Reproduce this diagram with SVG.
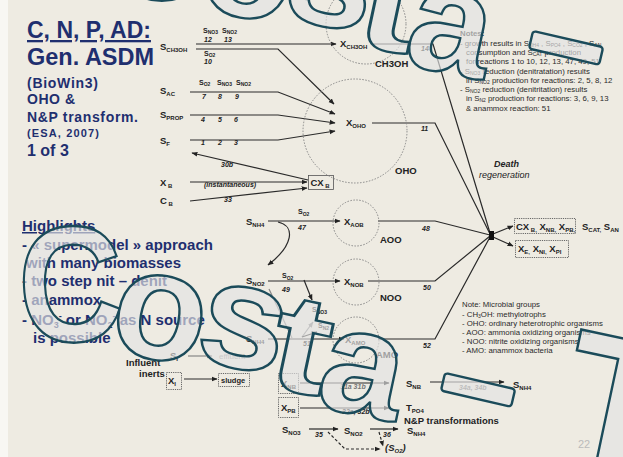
<svg xmlns="http://www.w3.org/2000/svg" width="623" height="457" viewBox="0 0 623 457">
<defs>
<marker id="ah" viewBox="0 0 10 10" refX="9" refY="5" markerWidth="6" markerHeight="6" orient="auto" markerUnits="userSpaceOnUse"><path d="M0,1 L10,5 L0,9 z" fill="#222"/></marker>
<marker id="ahg" viewBox="0 0 10 10" refX="9" refY="5" markerWidth="6" markerHeight="6" orient="auto" markerUnits="userSpaceOnUse"><path d="M0,1 L10,5 L0,9 z" fill="#888"/></marker>
<style>
.t{font-family:"Liberation Sans",Arial,sans-serif;fill:#222}
.v{font-size:9.5px;font-weight:bold}
.s{font-size:6px}
.n{font-size:7px;font-style:italic;font-weight:bold}
.sm{font-size:7px;font-weight:bold}
.ln{stroke:#2a2a2a;stroke-width:1.2;fill:none}
.lg{stroke:#888;stroke-width:1.2;fill:none}
.circ{fill:none;stroke:#888;stroke-width:1;stroke-dasharray:1.5 1.5}
.box{fill:none;stroke:#666;stroke-width:1;stroke-dasharray:1.2 1}
.nav{fill:#1f2f6f;font-family:"Liberation Sans",Arial,sans-serif;font-weight:bold}
.note{font-family:"Liberation Sans",Arial,sans-serif;font-size:7.8px;fill:#2a2a2a}
.ns{font-size:5px}
.wm{font-family:"Liberation Sans",Arial,sans-serif;font-weight:bold;fill:#e4e4e4;fill-opacity:0.65;stroke:#1b4b5a;stroke-width:2.4}
.wr{fill:#e4e4e4;fill-opacity:0.65;stroke:#1b4b5a;stroke-width:2.4}
</style>
<g id="wmword">
<text class="wm" transform="translate(20,343) rotate(-2) scale(0.88,1)" font-size="165">C</text>
<text class="wm" transform="translate(106,350) rotate(10)" font-size="155">o</text>
<text class="wm" transform="translate(192,358) rotate(12) scale(1.05,1)" font-size="150">s</text>
<text class="wm" transform="translate(264,385) rotate(12) scale(1.25,1)" font-size="140">t</text>
<text class="wm" transform="translate(313,405) rotate(12)" font-size="150">a</text>
<rect class="wr" x="0" y="0" width="72" height="18" rx="3" transform="translate(445,373) rotate(13)"/>
</g>
</defs>
<rect width="623" height="457" fill="#eeebe2"/>
<rect width="8" height="457" fill="#f8f7f3"/>

<g id="title">
<text class="nav" x="27" y="38" font-size="23" text-decoration="underline">C, N, P, AD:</text>
<text class="nav" x="27" y="65" font-size="23.5">Gen. ASDM</text>
<text class="nav" x="27" y="88" font-size="14" textLength="71">(BioWin3)</text>
<text class="nav" x="27" y="104" font-size="14" textLength="48">OHO &amp;</text>
<text class="nav" x="27" y="122" font-size="14" textLength="111">N&amp;P transform.</text>
<text class="nav" x="27" y="137" font-size="11" textLength="72">(ESA, 2007)</text>
<text class="nav" x="27" y="156" font-size="16">1 of 3</text>
</g>

<g id="highlights">
<text class="nav" x="22" y="231" font-size="15" text-decoration="underline">Highlights</text>
<text class="nav" x="22" y="250" font-size="15">- « supermodel » approach</text>
<text class="nav" x="26" y="268" font-size="15">with many biomasses</text>
<text class="nav" x="22" y="286" font-size="15">- two step nit – denit</text>
<text class="nav" x="22" y="305" font-size="15">- anammox</text>
<text class="nav" x="22" y="325" font-size="15">- NO<tspan font-size="9" dy="3">3</tspan><tspan font-size="9" dy="-9">-</tspan><tspan dy="6"> or NO</tspan><tspan font-size="9" dy="3">2</tspan><tspan font-size="9" dy="-9">-</tspan><tspan dy="6"> as N source</tspan></text>
<text class="nav" x="33" y="343" font-size="15">is possible</text>
</g>

<g id="connectors">
<path class="ln" d="M196,44 H336" marker-end="url(#ah)"/>
<path class="ln" d="M196,49 H278 L334,104" marker-end="url(#ah)"/>
<path class="ln" d="M190,92 H278 L335,114" marker-end="url(#ah)"/>
<path class="ln" d="M190,115 H278 L335,123" marker-end="url(#ah)"/>
<path class="ln" d="M190,140 H278 L335,131" marker-end="url(#ah)"/>
<path class="ln" d="M308,180 L192,153" marker-end="url(#ah)"/>
<path class="ln" d="M190,182 H307" marker-end="url(#ah)"/>
<path class="ln" d="M190,201 L307,188" marker-end="url(#ah)"/>
<path class="ln" d="M372,44 H433 L490,233"/>
<path class="ln" d="M372,123 H435 L490,234"/>
<path class="ln" d="M268,221 H340" marker-end="url(#ah)"/>
<path class="ln" d="M378,221 H435 L490,235"/>
<path class="ln" d="M268,281 H340" marker-end="url(#ah)"/>
<path class="ln" d="M368,281 H435 L490,236"/>
<path class="ln" d="M268,339 H344" marker-end="url(#ah)"/>
<path class="ln" d="M378,339 H435 L490,237"/>
<path class="ln" d="M493,234 L513,226" marker-end="url(#ah)"/>
<path class="ln" d="M493,237 L513,246" marker-end="url(#ah)"/>
<path class="ln" d="M278,222 C296,226 293,246 268,265" marker-end="url(#ah)"/>
<path class="ln" d="M304,280 L312,300" marker-end="url(#ah)"/>
<path class="lg" d="M269,289 L292,338"/>
<path class="lg" d="M302,337 L313,322" marker-end="url(#ahg)"/>
<path class="ln" d="M302,337 L317,332" marker-end="url(#ah)"/>
<path class="lg" d="M188,356 H212" marker-end="url(#ahg)"/>
<path class="ln" d="M184,379 H217" marker-end="url(#ah)"/>
<path class="ln" d="M300,383 H389" marker-end="url(#ah)"/>
<path class="ln" d="M430,382 H504" marker-end="url(#ah)"/>
<path class="ln" d="M300,408 H389" marker-end="url(#ah)"/>
<path class="ln" d="M309,429 H338" marker-end="url(#ah)"/>
<path class="ln" d="M370,429 H398" marker-end="url(#ah)"/>
<path class="ln" d="M328,432 L345,449 H380" stroke-dasharray="3 2" marker-end="url(#ah)"/>
<path class="ln" d="M379,432 L383,446" stroke-dasharray="3 2" marker-end="url(#ah)"/>
</g>

<g id="labels" class="t">
<text x="203" y="33" class="sm" font-size="5.5">S<tspan class="ns" dy="1">NO3</tspan></text>
<text x="222" y="33" class="sm" font-size="5.5">S<tspan class="ns" dy="1">NO2</tspan></text>
<text x="204" y="42" class="n">12</text><text x="224" y="42" class="n">13</text>
<text x="204" y="56" class="sm" font-size="5.5">S<tspan class="ns" dy="1">O2</tspan></text>
<text x="204" y="64" class="n">10</text>
<text x="199" y="85" class="sm" font-size="5.5">S<tspan class="ns" dy="1">O2</tspan></text>
<text x="217" y="85" class="sm" font-size="5.5">S<tspan class="ns" dy="1">NO3</tspan></text>
<text x="236" y="85" class="sm" font-size="5.5">S<tspan class="ns" dy="1">NO2</tspan></text>
<text x="202" y="99" class="n">7</text><text x="218" y="99" class="n">8</text><text x="235" y="99" class="n">9</text>
<text x="201" y="122" class="n">4</text><text x="218" y="122" class="n">5</text><text x="234" y="122" class="n">6</text>
<text x="201" y="145" class="n">1</text><text x="218" y="145" class="n">2</text><text x="234" y="145" class="n">3</text>
<text x="221" y="167" class="n">30b</text>
<text x="204" y="187" class="n" font-weight="normal">(instantaneous)</text>
<text x="224" y="202" class="n">33</text>
<text x="421" y="51" class="n">14</text>
<text x="421" y="131" class="n">11</text>
<text x="298" y="214" class="sm">S<tspan class="ns" dy="1.5">O2</tspan></text>
<text x="298" y="230" class="n">47</text>
<text x="282" y="278" class="sm">S<tspan class="ns" dy="1.5">O2</tspan></text>
<text x="282" y="292" class="n">49</text>
<text x="312" y="312" class="sm">S<tspan class="ns" dy="1.5">NO3</tspan></text>
<text x="318" y="328" class="sm">S<tspan class="ns" dy="1.5">N2</tspan></text>
<text x="303" y="346" class="n">51</text>
<text x="422" y="231" class="n">48</text>
<text x="423" y="290" class="n">50</text>
<text x="423" y="348" class="n">52</text>
<text x="340" y="389" class="n" style="fill:#777">31a 31b</text>
<text x="459" y="390" class="n" style="fill:#777">34a, 34b</text>
<text x="342" y="414" class="n">32a, 32b</text>
<text x="315" y="437" class="n">35</text>
<text x="383" y="437" class="n">36</text>
</g>

<g id="n-sch3oh" class="t"><text x="160" y="50" class="v">S<tspan class="s" dy="2">CH3OH</tspan></text></g>
<g id="n-sac" class="t"><text x="160" y="94" class="v">S<tspan class="s" dy="2">AC</tspan></text></g>
<g id="n-sprop" class="t"><text x="160" y="118" class="v">S<tspan class="s" dy="2">PROP</tspan></text></g>
<g id="n-sf" class="t"><text x="160" y="144" class="v">S<tspan class="s" dy="2">F</tspan></text></g>
<g id="n-xb" class="t"><text x="160" y="186" class="v">X<tspan class="s" dy="2"> B</tspan></text></g>
<g id="n-cb" class="t"><text x="160" y="204" class="v">C<tspan class="s" dy="2"> B</tspan></text></g>
<g id="n-cxb" class="t"><rect x="308.5" y="175.5" width="25" height="14" fill="none" stroke="#555" stroke-width="0.8"/><text x="310.5" y="186" class="v">CX<tspan class="s" dy="2"> B</tspan></text></g>

<g id="n-xch3oh" class="t">
<circle class="circ" cx="366" cy="24" r="40"/>
<text x="340" y="47" class="v">X<tspan class="s" dy="2">CH3OH</tspan></text>
<text x="375" y="67" class="v" font-size="9">CH3OH</text>
</g>
<g id="n-xoho" class="t">
<circle class="circ" cx="355" cy="131" r="52"/>
<text x="346" y="126" class="v">X<tspan class="s" dy="2">OHO</tspan></text>
<text x="395" y="174" class="v">OHO</text>
</g>
<g id="n-snh4a" class="t"><text x="246" y="225" class="v">S<tspan class="s" dy="2">NH4</tspan></text></g>
<g id="n-xaob" class="t">
<circle class="circ" cx="356" cy="223" r="23"/>
<text x="344" y="225" class="v">X<tspan class="s" dy="2">AOB</tspan></text>
<text x="380" y="243" class="v">AOO</text>
</g>
<g id="n-sno2" class="t"><text x="246" y="284" class="v">S<tspan class="s" dy="2">NO2</tspan></text></g>
<g id="n-xnob" class="t">
<circle class="circ" cx="356" cy="282" r="23"/>
<text x="344" y="285" class="v">X<tspan class="s" dy="2">NOB</tspan></text>
<text x="380" y="301" class="v">NOO</text>
</g>
<g id="n-snh4b" class="t"><text x="246" y="342" class="v">S<tspan class="s" dy="2">NH4</tspan></text></g>
<g id="n-xamo" class="t">
<circle class="circ" cx="356" cy="340" r="23"/>
<text x="345" y="343" class="v">X<tspan class="s" dy="2">AMO</tspan></text>
<text x="376" y="358" class="v">AMO</text>
</g>

<g id="n-death" class="t">
<rect x="489" y="231" width="5" height="9" fill="#111"/>
<text x="494" y="167" font-size="9" font-style="italic" font-weight="bold">Death</text>
<text x="479" y="178" font-size="9" font-style="italic">regeneration</text>
</g>
<g id="n-out1" class="t">
<rect class="box" x="514.5" y="218.5" width="61" height="15"/>
<text x="516" y="230" class="v">CX<tspan class="s" dy="2"> B,</tspan><tspan dy="-2"> X</tspan><tspan class="s" dy="2">NB,</tspan><tspan dy="-2"> X</tspan><tspan class="s" dy="2">PB,</tspan></text>
<text x="582" y="230" class="v">S<tspan class="s" dy="2">CAT,</tspan><tspan dy="-2"> S</tspan><tspan class="s" dy="2">AN</tspan></text>
</g>
<g id="n-out2" class="t">
<rect class="box" x="515.5" y="240.5" width="53" height="17"/>
<text x="518" y="252" class="v">X<tspan class="s" dy="2">E,</tspan><tspan dy="-2"> X</tspan><tspan class="s" dy="2">NI,</tspan><tspan dy="-2"> X</tspan><tspan class="s" dy="2">PI</tspan></text>
</g>

<g id="n-notes" class="note">
<text x="460" y="36" font-weight="bold">Notes:</text>
<text x="460" y="46">- growth results in S<tspan class="ns" dy="1">NH4</tspan><tspan dy="-1"> , S</tspan><tspan class="ns" dy="1">PO4</tspan><tspan dy="-1"> , S</tspan><tspan class="ns" dy="1">CO2</tspan><tspan dy="-1"> , S</tspan><tspan class="ns" dy="1">AN</tspan></text>
<text x="466" y="55">consumption and S<tspan class="ns" dy="1">CAT</tspan><tspan dy="-1"> production</tspan></text>
<text x="466" y="64">for reactions  1 to 10, 12, 13, 47, 49, 51</text>
<text x="460" y="74">- S<tspan class="ns" dy="1">NO3</tspan><tspan dy="-1"> reduction (denitratation) results</tspan></text>
<text x="466" y="83">in S<tspan class="ns" dy="1">NO2</tspan><tspan dy="-1"> production for reactions: 2, 5, 8, 12</tspan></text>
<text x="460" y="92">- S<tspan class="ns" dy="1">NO2</tspan><tspan dy="-1"> reduction (denitritation) results</tspan></text>
<text x="466" y="101">in S<tspan class="ns" dy="1">N2</tspan><tspan dy="-1"> production for reactions: 3, 6, 9, 13</tspan></text>
<text x="466" y="111">&amp; anammox reaction: 51</text>
</g>

<g id="n-groups" class="note">
<text x="462" y="307">Note: Microbial groups</text>
<text x="462" y="317">- CH<tspan class="ns" dy="1">3</tspan><tspan dy="-1">OH: methylotrophs</tspan></text>
<text x="462" y="326">- OHO: ordinary heterotrophic organisms</text>
<text x="462" y="335">- AOO: ammonia oxidizing organisms</text>
<text x="462" y="344">- NOO: nitrite oxidizing organisms</text>
<text x="462" y="353">- AMO: anammox bacteria</text>
</g>

<g id="n-inerts" class="t">
<text x="126" y="366" font-size="9.5" font-weight="bold">Influent</text>
<text x="139" y="377" font-size="9.5" font-weight="bold">inerts</text>
<text x="170" y="359" class="v">S<tspan class="s" dy="2">I</tspan></text>
<text x="219" y="359" font-size="8" style="fill:#999">effluent</text>
<rect class="box" x="166.5" y="372.5" width="15" height="17"/>
<text x="168" y="384" class="v">X<tspan class="s" dy="2">I</tspan></text>
<rect class="box" x="218.5" y="373.5" width="31" height="13"/>
<text x="221" y="383" font-size="7.5" font-weight="bold">sludge</text>
</g>

<g id="n-np" class="t">
<rect class="box" x="278.5" y="373.5" width="20" height="20"/>
<text x="281" y="387" class="v">X<tspan class="s" dy="2">NB</tspan></text>
<rect class="box" x="278.5" y="397.5" width="20" height="20"/>
<text x="281" y="411" class="v">X<tspan class="s" dy="2">PB</tspan></text>
<text x="406" y="387" class="v">S<tspan class="s" dy="2">NB</tspan></text>
<text x="513" y="388" class="v">S<tspan class="s" dy="2">NH4</tspan></text>
<text x="406" y="411" class="v">T<tspan class="s" dy="2">PO4</tspan></text>
<text x="404" y="424" font-size="9.5" font-weight="bold">N&amp;P transformations</text>
<text x="282" y="433" class="v">S<tspan class="s" dy="2">NO3</tspan></text>
<text x="344" y="434" class="v">S<tspan class="s" dy="2">NO2</tspan></text>
<text x="407" y="434" class="v">S<tspan class="s" dy="2">NH4</tspan></text>
<text x="385" y="451" class="v" font-style="italic">(S<tspan class="s" dy="2">O2</tspan><tspan dy="-2">)</tspan></text>
</g>

<g id="watermark">
<use href="#wmword"/>
<use href="#wmword" transform="translate(88,-342)"/>
<text class="wm" transform="translate(552,457) rotate(12)" font-size="190">T</text>
<text x="578" y="448" font-family="Liberation Sans,Arial,sans-serif" font-size="11" fill="#bbb">22</text>
</g>
</svg>
